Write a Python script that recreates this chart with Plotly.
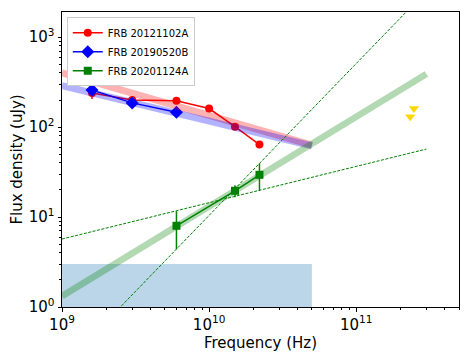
import numpy as np
import plotly.graph_objects as go

# ---- data ----
red_name = "FRB 20121102A"
red_freq = [1.6e9, 3e9, 6e9, 1e10, 1.5e10, 2.2e10]
red_flux = [240, 200, 196, 161, 101, 64]
red_err = [35, 0, 0, 0, 0, 0]

blue_name = "FRB 20190520B"
blue_freq = [1.6e9, 3e9, 6e9]
blue_flux = [258, 186, 146]

green_name = "FRB 20201124A"
green_freq = [6e9, 1.5e10, 2.2e10]
green_flux = [8.0, 19.6, 29.5]
green_err = [3.6, 3.0, 10.0]

limit_freq = [2.47e11, 2.33e11]
limit_flux = [161, 130]

red_fit_freq = [1e9, 5e10]
red_fit_flux = [400, 63]
blue_fit_freq = [1e9, 5e10]
blue_fit_flux = [290, 62]
green_fit_freq = [1e9, 3e11]
green_fit_flux = [1.32, 390]
green_lo_freq = [1e9, 3e11]
green_lo_flux = [5.7, 57]
green_hi_freq = [1e9, 3e11]
green_hi_flux = [0.214, 3250]

region_freq = [1e9, 5e10, 5e10, 1e9, 1e9]
region_flux = [1, 1, 3, 3, 1]

FONT = "DejaVu Sans"
fig = go.Figure()

# shaded region
fig.add_trace(go.Scatter(x=region_freq, y=region_flux, mode="lines", fill="toself",
                         fillcolor="rgba(31,119,180,0.3)", line=dict(width=0),
                         showlegend=False, hoverinfo="skip"))

# data
fig.add_trace(go.Scatter(x=red_freq, y=red_flux, mode="lines+markers", name=red_name,
                         line=dict(color="red", width=1.5),
                         marker=dict(symbol="circle", size=8, color="red"),
                         error_y=dict(type="data", array=red_err, color="red", thickness=1.5, width=0)))
fig.add_trace(go.Scatter(x=blue_freq, y=blue_flux, mode="lines+markers", name=blue_name,
                         line=dict(color="blue", width=1.5),
                         marker=dict(symbol="diamond", size=10, color="blue")))
fig.add_trace(go.Scatter(x=green_freq, y=green_flux, mode="lines+markers", name=green_name,
                         line=dict(color="green", width=1.5),
                         marker=dict(symbol="square", size=8, color="green"),
                         error_y=dict(type="data", array=green_err, color="green", thickness=1.5, width=0)))

# upper limits
fig.add_trace(go.Scatter(x=limit_freq, y=limit_flux, mode="markers", showlegend=False,
                         marker=dict(symbol="triangle-down", size=9, color="gold")))

# fit bands
fig.add_trace(go.Scatter(x=red_fit_freq, y=red_fit_flux, mode="lines", showlegend=False,
                         line=dict(color="rgba(255,0,0,0.3)", width=7)))
fig.add_trace(go.Scatter(x=blue_fit_freq, y=blue_fit_flux, mode="lines", showlegend=False,
                         line=dict(color="rgba(0,0,255,0.3)", width=7)))
fig.add_trace(go.Scatter(x=green_fit_freq, y=green_fit_flux, mode="lines", showlegend=False,
                         line=dict(color="rgba(0,128,0,0.3)", width=6.5)))
fig.add_trace(go.Scatter(x=green_lo_freq, y=green_lo_flux, mode="lines", showlegend=False,
                         line=dict(color="green", width=1, dash="3px,1.5px")))
fig.add_trace(go.Scatter(x=green_hi_freq, y=green_hi_flux, mode="lines", showlegend=False,
                         line=dict(color="green", width=1, dash="3px,1.5px")))

xmaj = [1e9, 1e10, 1e11]
xmaj_text = ["10<sup>9</sup>", "10<sup>10</sup>", "10<sup>11</sup>"]
xminor = [m * 10**e for e in (9, 10, 11) for m in range(2, 10) if m * 10**e <= 5e11]
ymaj = [1, 10, 100, 1000]
ymaj_text = ["10<sup>0</sup>", "10<sup>1</sup>", "10<sup>2</sup>", "10<sup>3</sup>"]
yminor = [m * 10**e for e in (0, 1, 2, 3) for m in range(2, 10) if m * 10**e <= 1900]

fig.update_xaxes(type="log", range=[9, np.log10(5e11)], showgrid=False, zeroline=False,
                 showline=True, linecolor="black", linewidth=1, mirror=True, automargin=False,
                 tickmode="array", tickvals=xmaj, ticktext=xmaj_text,
                 ticks="outside", ticklen=3.5, tickcolor="black",
                 minor=dict(tickmode="array", tickvals=xminor, ticks="outside", ticklen=2, tickcolor="black"),
                 tickfont=dict(family=FONT, size=15, color="black"),
                 title=dict(text="Frequency (Hz)", font=dict(family=FONT, size=15, color="black"), standoff=3))
fig.update_yaxes(type="log", range=[0, 3.28], showgrid=False, zeroline=False,
                 showline=True, linecolor="black", linewidth=1, mirror=True, automargin=False,
                 tickmode="array", tickvals=ymaj, ticktext=ymaj_text,
                 ticks="outside", ticklen=3.5, tickcolor="black",
                 minor=dict(tickmode="array", tickvals=yminor, ticks="outside", ticklen=2, tickcolor="black"),
                 tickfont=dict(family=FONT, size=15, color="black"),
                 title=dict(text="Flux density (uJy)", font=dict(family=FONT, size=15, color="black"), standoff=4))

fig.update_layout(width=463, height=350, margin=dict(l=54, r=12, t=4, b=51),
                  paper_bgcolor="white", plot_bgcolor="white",
                  legend=dict(x=0.012, y=0.982, xanchor="left", yanchor="top",
                              bgcolor="white", bordercolor="#cccccc", borderwidth=1,
                              font=dict(family=FONT, size=10, color="black"),
                              tracegroupgap=0, itemwidth=30),
                  font=dict(family=FONT))

fig.write_html("out.html")
